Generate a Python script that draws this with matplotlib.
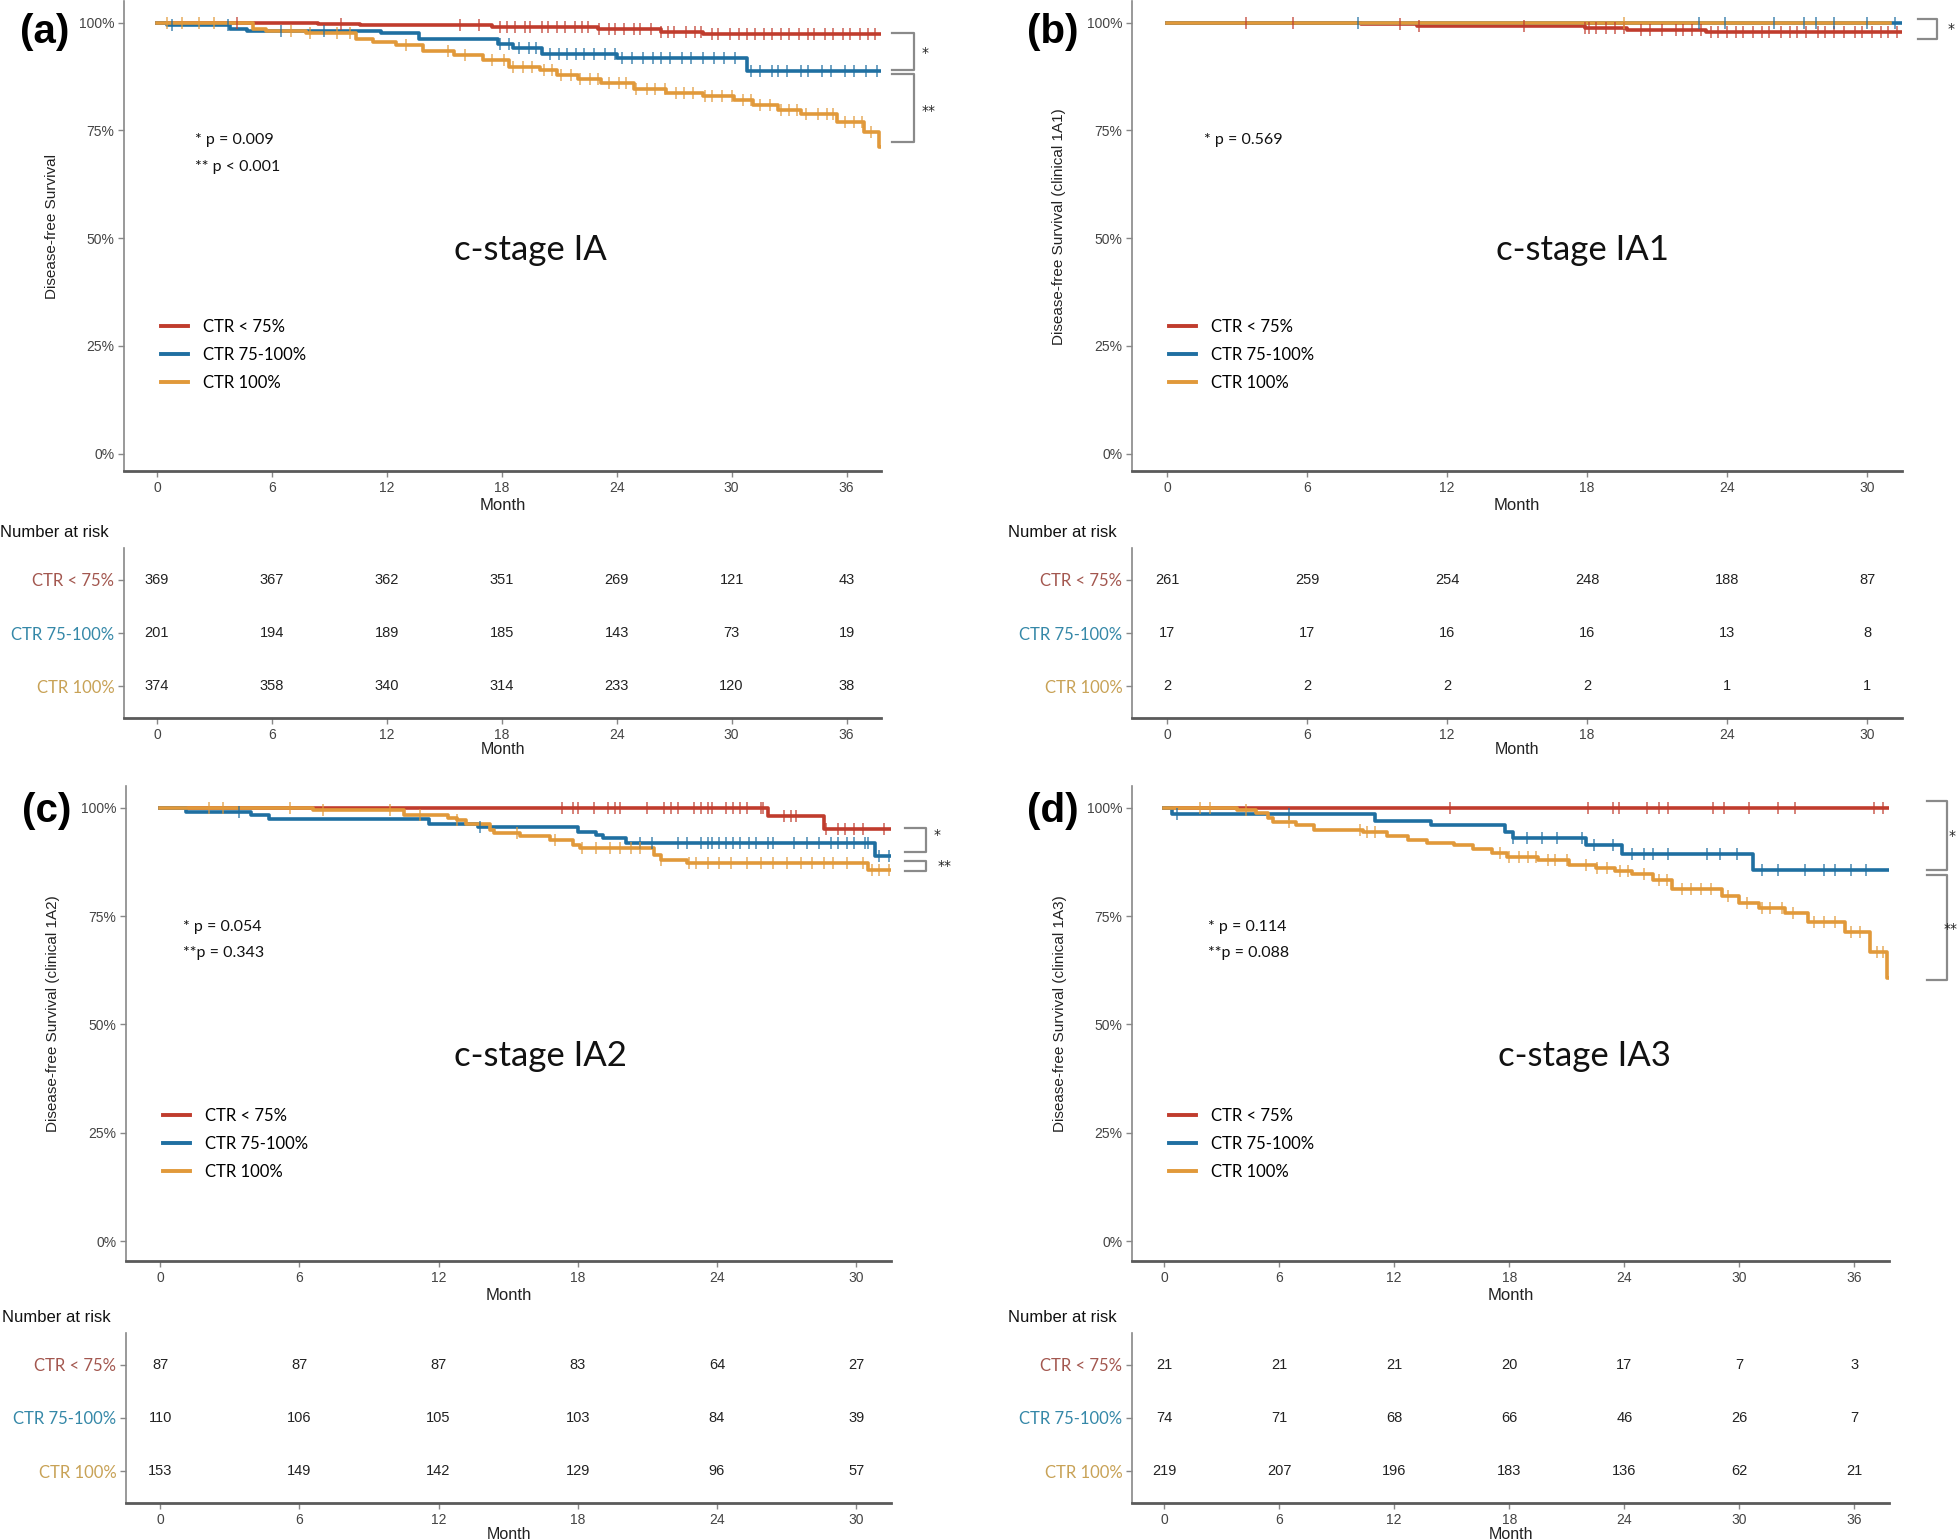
import numpy as np
import matplotlib.pyplot as plt
from matplotlib.lines import Line2D

W, H = 1959, 1540

groups = ['CTR < 75%', 'CTR 75-100%', 'CTR 100%']
line_colors = ['#c03c2d', '#1f6fa1', '#e1993a']
label_colors = ['#a3574f', '#3588a8', '#c8a256']

# ---- panel (a) c-stage IA : step times (month) / survival (%)
a_red_t = [0, 8.4, 10.6, 17.5, 23.0, 26.3, 28.5, 37.8]
a_red_s = [100, 99.7, 99.4, 99.0, 98.6, 97.9, 97.3, 97.3]
a_blue_t = [0, 0.5, 3.8, 4.7, 11.7, 13.7, 17.8, 18.6, 20.1, 24.0, 30.8, 37.8]
a_blue_s = [100, 99.4, 98.6, 98.0, 97.5, 96.2, 95.0, 94.2, 92.8, 91.7, 88.7, 88.7]
a_orng_t = [0, 5.0, 5.7, 7.8, 10.4, 11.3, 12.5, 13.9, 15.5, 17.0, 18.4, 20.0, 20.9, 22.0,
            23.2, 24.9, 26.6, 28.5, 30.1, 31.1, 32.4, 33.6, 35.5, 36.9, 37.7, 37.8]
a_orng_s = [100, 98.6, 98.0, 97.5, 96.2, 95.5, 94.8, 93.4, 92.5, 91.3, 89.7, 89.0, 87.8, 87.0,
            86.0, 84.7, 83.6, 83.0, 82.0, 80.9, 79.7, 78.8, 76.9, 74.7, 71.2, 71.2]
a_red_cens = [4.2, 9.6, 15.8, 16.8, 17.9, 18.3, 18.7, 19.2, 19.5, 20.1, 20.4, 20.9, 21.3, 21.8,
              22.2, 22.5, 23.1, 23.6, 23.9, 24.4, 24.9, 25.2, 25.8, 26.3, 26.7, 27.0, 27.6, 28.1,
              28.4, 29.0, 29.3, 29.9, 30.4, 30.8, 31.2, 31.7, 32.1, 32.6, 33.0, 33.5, 34.0, 34.3,
              34.9, 35.3, 35.8, 36.2, 36.7, 37.1, 37.5]
a_blue_cens = [0.8, 3.7, 6.5, 8.7, 17.9, 18.4, 18.9, 19.4, 19.8, 20.5, 21.0, 21.4, 21.9, 22.3,
               22.8, 23.4, 23.9, 24.3, 24.8, 25.4, 25.9, 26.3, 26.8, 27.4, 27.9, 28.5, 29.1, 29.6,
               30.2, 31.0, 31.5, 32.1, 32.4, 32.9, 33.6, 34.0, 34.7, 35.2, 35.9, 36.4, 37.0, 37.6]
a_orng_cens = [0.5, 1.3, 2.2, 3.0, 7.0, 8.0, 9.4, 10.1, 13.0, 15.2, 16.1, 17.5, 18.1, 18.6, 19.1,
               19.6, 20.2, 20.6, 21.1, 21.6, 22.1, 22.6, 23.0, 23.6, 24.1, 24.5, 25.0, 25.6, 26.0,
               26.5, 27.1, 27.5, 28.0, 28.6, 29.0, 29.5, 30.0, 30.6, 31.0, 31.5, 32.0, 32.6, 33.0,
               33.4, 33.9, 34.5, 35.0, 35.3, 35.9, 36.4, 36.8, 37.3]
a_times = [0, 6, 12, 18, 24, 30, 36]
a_risk = [[369, 367, 362, 351, 269, 121, 43],
          [201, 194, 189, 185, 143, 73, 19],
          [374, 358, 340, 314, 233, 120, 38]]

# ---- panel (b) c-stage IA1
b_red_t = [0, 8.3, 10.7, 17.9, 19.7, 23.1, 31.5]
b_red_s = [100, 99.6, 99.2, 98.8, 98.3, 97.8, 97.8]
b_blue_t = [0, 31.5]
b_blue_s = [100, 100]
b_orng_t = [0, 31.0]
b_orng_s = [100, 100]
b_red_cens = [3.4, 5.4, 10.0, 10.8, 15.3, 17.9, 18.1, 18.4, 18.8, 19.2, 19.6, 20.3, 20.7, 21.2,
              21.8, 22.1, 22.5, 22.9, 23.3, 23.6, 24.0, 24.4, 24.7, 25.1, 25.5, 25.8, 26.3, 26.7,
              27.0, 27.4, 27.9, 28.2, 28.6, 29.0, 29.5, 29.8, 30.2, 30.6, 30.9, 31.3]
b_blue_cens = [8.2, 22.8, 23.9, 26.0, 27.3, 27.8, 28.6, 30.0, 31.2]
b_orng_cens = [19.6]
b_times = [0, 6, 12, 18, 24, 30]
b_risk = [[261, 259, 254, 248, 188, 87],
          [17, 17, 16, 16, 13, 8],
          [2, 2, 2, 2, 1, 1]]

# ---- panel (c) c-stage IA2
c_red_t = [0, 26.2, 28.6, 31.5]
c_red_s = [100, 98.0, 95.0, 95.0]
c_blue_t = [0, 1.1, 3.9, 4.7, 11.6, 13.7, 18.0, 18.8, 19.1, 20.1, 30.8, 31.5]
c_blue_s = [100, 99.1, 98.4, 97.5, 96.3, 95.6, 94.5, 93.8, 93.1, 91.8, 88.9, 88.9]
c_orng_t = [0, 6.6, 10.5, 12.4, 12.8, 13.2, 14.2, 14.4, 15.5, 16.8, 17.8, 18.1, 21.3, 21.6,
            22.7, 30.5, 31.5]
c_orng_s = [100, 99.4, 98.2, 97.7, 97.2, 96.3, 94.8, 94.2, 93.4, 92.6, 91.5, 90.7, 89.1, 88.0,
            87.2, 85.7, 85.7]
c_red_cens = [17.3, 17.8, 18.0, 18.7, 19.3, 19.6, 19.8, 21.0, 21.7, 22.0, 22.3, 23.0, 23.3, 23.6,
              23.8, 24.4, 24.7, 25.0, 25.3, 25.9, 26.0, 26.9, 27.2, 27.4, 28.7, 29.2, 29.5, 29.9,
              30.3, 31.2]
c_blue_cens = [3.4, 13.8, 20.7, 21.2, 22.3, 22.7, 23.3, 23.6, 23.8, 24.1, 24.4, 24.7, 25.0, 25.4,
               25.7, 26.2, 26.4, 27.3, 27.9, 28.4, 28.9, 29.2, 29.6, 29.9, 30.4, 30.5, 31.0, 31.4]
c_orng_cens = [2.1, 2.7, 5.6, 7.0, 9.9, 11.2, 12.8, 15.4, 17.0, 18.2, 18.8, 19.4, 19.8, 20.3,
               20.7, 21.6, 22.8, 23.1, 23.6, 24.1, 24.6, 25.3, 25.9, 26.4, 27.0, 27.6, 28.1, 28.6,
               29.0, 29.6, 30.3, 30.7, 31.0, 31.4]
c_times = [0, 6, 12, 18, 24, 30]
c_risk = [[87, 87, 87, 83, 64, 27],
          [110, 106, 105, 103, 84, 39],
          [153, 149, 142, 129, 96, 57]]

# ---- panel (d) c-stage IA3
d_red_t = [0, 37.8]
d_red_s = [100, 100]
d_blue_t = [0, 0.4, 11.0, 13.9, 17.8, 18.2, 22.0, 23.9, 30.7, 37.8]
d_blue_s = [100, 98.6, 97.0, 96.0, 94.4, 93.0, 91.4, 89.3, 85.6, 85.6]
d_orng_t = [0, 3.8, 4.8, 5.4, 5.7, 6.9, 7.8, 10.4, 11.6, 12.7, 13.7, 15.1, 16.1, 17.1, 17.9,
            19.5, 21.1, 22.5, 23.5, 24.4, 25.5, 26.5, 29.1, 30.0, 31.0, 32.4, 33.6, 35.5, 36.8,
            37.7, 37.8]
d_orng_s = [100, 99.5, 98.8, 97.7, 96.8, 96.1, 94.9, 94.5, 93.4, 92.6, 91.9, 91.3, 90.5, 89.6,
            88.6, 88.0, 86.8, 86.0, 85.5, 84.8, 83.2, 81.2, 79.6, 78.0, 76.8, 75.6, 73.6, 71.2,
            66.7, 60.7, 60.7]
d_red_cens = [14.9, 22.1, 23.4, 23.7, 25.2, 25.8, 26.3, 28.6, 29.2, 30.5, 32.0, 32.9, 37.0, 37.5]
d_blue_cens = [0.7, 6.5, 18.2, 18.9, 19.7, 20.5, 21.8, 22.4, 23.4, 24.4, 25.0, 25.5, 26.3, 28.3,
               29.0, 29.9, 31.2, 32.0, 33.4, 34.4, 35.0, 35.8, 36.6]
d_orng_cens = [1.9, 2.4, 4.3, 6.5, 10.2, 10.6, 11.0, 17.5, 18.0, 18.5, 19.0, 19.4, 20.0, 20.4,
               21.0, 22.0, 22.6, 23.1, 23.8, 24.2, 25.0, 25.8, 26.2, 27.0, 27.5, 28.0, 28.5, 29.4,
               30.4, 31.2, 31.6, 32.2, 32.8, 33.9, 34.4, 35.0, 35.8, 36.3, 37.2, 37.5]
d_times = [0, 6, 12, 18, 24, 30, 36]
d_risk = [[21, 21, 21, 20, 17, 7, 3],
          [74, 71, 68, 66, 46, 26, 7],
          [219, 207, 196, 183, 136, 62, 21]]

TICK_FONT = ['Liberation Sans Narrow', 'Liberation Sans', 'DejaVu Sans']
TEXT_FONT = ['Lato', 'DejaVu Sans']
SPINE = '#5a5a5a'

fig = plt.figure(figsize=(W / 100, H / 100), dpi=100)


def px_axes(left, top, right, bottom):
    return fig.add_axes([left / W, 1 - bottom / H, (right - left) / W, (bottom - top) / H])


def style(ax):
    for s in ['top', 'right']:
        ax.spines[s].set_visible(False)
    ax.spines['left'].set_color('#888888')
    ax.spines['left'].set_linewidth(1.2)
    ax.spines['bottom'].set_color(SPINE)
    ax.spines['bottom'].set_linewidth(2.0)
    ax.tick_params(colors='#888888', length=4, width=1, labelcolor='#444444', labelsize=10,
                   pad=3)
    for lab in ax.get_xticklabels() + ax.get_yticklabels():
        lab.set_family(TICK_FONT)


def step_val(t, s, x):
    i = np.searchsorted(t, x, side='right') - 1
    return np.asarray(s)[i]


def km_panel(box, xlim, ylim, curves, cens, times, ylabel, tag, tag_y, stage, stage_xy, pvals,
             p_xy, brackets, stars):
    ax = px_axes(*box)
    for (t, s), c, col in zip(curves, cens, line_colors):
        t = np.asarray(t)
        s = np.asarray(s) / 100
        ax.step(t, s, where='post', color=col, lw=2.6, zorder=3)
        if len(c):
            ax.plot(c, step_val(t, s, c), ls='none', marker='|', ms=8, mew=1.2,
                    color=col, alpha=0.75, zorder=4)
    ax.set_xlim(*xlim)
    ax.set_ylim(*ylim)
    ax.set_xticks(times)
    ax.set_yticks([0, 0.25, 0.5, 0.75, 1.0])
    ax.set_yticklabels(['0%', '25%', '50%', '75%', '100%'])
    style(ax)
    ax.set_xlabel('Month', family=TICK_FONT, fontsize=12, color='#222222', labelpad=2)
    ax.set_ylabel(ylabel, family=['Liberation Sans', 'DejaVu Sans'], fontsize=11,
                  color='#222222')
    ax.yaxis.set_label_coords(-0.086, 0.52)
    ax.text(stage_xy[0], stage_xy[1], stage, fontsize=25, family=TEXT_FONT,
            ha='center', va='center', color='#111111')
    for k, p in enumerate(pvals):
        ax.text(p_xy[0], p_xy[1] - k * 0.061, p, fontsize=11.5, family=TEXT_FONT,
                ha='left', va='center', color='#111111')
    handles = [Line2D([0], [0], color=col, lw=2.8) for col in line_colors]
    ax.legend(handles, groups, loc='upper left', bbox_to_anchor=(0.04, 0.337),
              frameon=False, prop={'family': TEXT_FONT, 'size': 12},
              handlelength=1.6, labelspacing=0.72, borderaxespad=0, handletextpad=0.9)
    for (x0, x1, y0, y1), (sx, sy, st) in zip(brackets, stars):
        ax.plot([x0, x1, x1, x0], [y0 / 100, y0 / 100, y1 / 100, y1 / 100], color='#8a8a8a',
                lw=1.6, clip_on=False, zorder=2)
        ax.text(sx, sy / 100, st, fontsize=10, ha='center', va='center', clip_on=False,
                color='#222222')
    fig.text((box[0] - 79) / W, 1 - tag_y / H, tag, fontsize=29, weight='bold',
             family=['Liberation Sans', 'DejaVu Sans'], ha='center', va='center')
    return ax


def risk_table(box, xlim, times, risk):
    ax = px_axes(*box)
    for r, row in enumerate(risk):
        for t, n in zip(times, row):
            ax.text(t, 3 - r, str(n), ha='center', va='center', fontsize=10.5,
                    family=TICK_FONT, color='#222222')
    ax.set_xlim(*xlim)
    ax.set_ylim(0.4, 3.6)
    ax.set_xticks(times)
    ax.set_yticks([3, 2, 1])
    ax.set_yticklabels(groups)
    style(ax)
    for lab, col in zip(ax.get_yticklabels(), label_colors):
        lab.set_color(col)
        lab.set_family(TEXT_FONT)
        lab.set_fontsize(12)
    ax.set_xlabel('Month', family=TICK_FONT, fontsize=11.5, color='#222222', labelpad=0)
    fig.text((box[0] - 124) / W, 1 - (box[1] - 15) / H, 'Number at risk', fontsize=12,
             family=['Liberation Sans', 'DejaVu Sans'], ha='left', va='center', color='#111111')
    return ax


xa = (-1.72, 37.8)
xb = (-1.5, 31.5)
xc = (-1.47, 31.5)
xd = (-1.67, 37.8)

km_panel((124, 1, 881, 471), xa, (-0.04, 1.05),
         [(a_red_t, a_red_s), (a_blue_t, a_blue_s), (a_orng_t, a_orng_s)],
         [a_red_cens, a_blue_cens, a_orng_cens], a_times,
         'Disease-free Survival', '(a)', 32, 'c-stage IA', (19.5, 0.472),
         ['* p = 0.009', '** p < 0.001'], (2.0, 0.727),
         [(38.4, 39.5, 97.6, 88.9), (38.4, 39.5, 88.0, 72.3)],
         [(40.1, 93.0, '*'), (40.3, 79.5, '**')])
risk_table((124, 548, 881, 718), xa, a_times, a_risk)

km_panel((1132, 1, 1902, 471), xb, (-0.04, 1.05),
         [(b_red_t, b_red_s), (b_blue_t, b_blue_s), (b_orng_t, b_orng_s)],
         [b_red_cens, b_blue_cens, b_orng_cens], b_times,
         'Disease-free Survival (clinical 1A1)', '(b)', 32, 'c-stage IA1', (17.8, 0.472),
         ['* p = 0.569'], (1.6, 0.727),
         [(32.2, 33.0, 100.9, 96.3)], [(33.6, 98.6, '*')])
risk_table((1132, 548, 1902, 718), xb, b_times, b_risk)

km_panel((126, 786, 891, 1261), xc, (-0.046, 1.05),
         [(c_red_t, c_red_s), (c_blue_t, c_blue_s), (c_orng_t, c_orng_s)],
         [c_red_cens, c_blue_cens, c_orng_cens], c_times,
         'Disease-free Survival (clinical 1A2)', '(c)', 811, 'c-stage IA2', (16.4, 0.427),
         ['* p = 0.054', '**p = 0.343'], (1.0, 0.725),
         [(32.1, 33.0, 95.3, 89.7), (32.1, 33.0, 87.8, 85.3)],
         [(33.5, 93.8, '*'), (33.8, 86.5, '**')])
risk_table((126, 1333, 891, 1503), xc, c_times, c_risk)

km_panel((1132, 786, 1889, 1261), xd, (-0.046, 1.05),
         [(d_red_t, d_red_s), (d_blue_t, d_blue_s), (d_orng_t, d_orng_s)],
         [d_red_cens, d_blue_cens, d_orng_cens], d_times,
         'Disease-free Survival (clinical 1A3)', '(d)', 811, 'c-stage IA3', (21.9, 0.427),
         ['* p = 0.114', '**p = 0.088'], (2.3, 0.725),
         [(39.8, 40.8, 101.6, 85.6), (39.8, 40.8, 84.4, 60.3)],
         [(41.1, 93.5, '*'), (41.0, 72.0, '**')])
risk_table((1132, 1333, 1889, 1503), xd, d_times, d_risk)

fig.savefig('out.png', dpi=100, facecolor='white')
